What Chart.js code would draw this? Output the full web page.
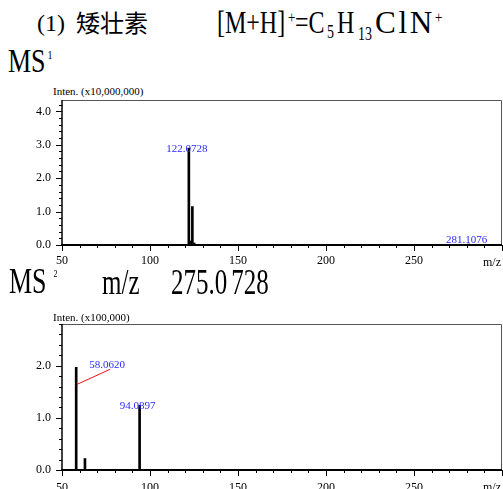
<!DOCTYPE html>
<html>
<head>
<meta charset="utf-8">
<script src="https://cdn.jsdelivr.net/npm/chart.js@4.4.0/dist/chart.umd.min.js"></script>
<style>
  html, body { margin: 0; padding: 0; background: #fff; }
  body { width: 503px; height: 489px; position: relative; overflow: hidden; font-family: "Liberation Serif", "Times New Roman", serif; color: #000; }
  .t { position: absolute; white-space: nowrap; line-height: 1; transform-origin: 0 0; }
  .tall { transform: scaleY(1.3); top: 7px; font-size: 24px; }
  .taller { transform: scaleY(1.4); }
  .sup, .sub { position: relative; }
  canvas { position: absolute; left: 0; }
</style>
</head>
<body>
  <div class="t" style="left:37px; top:11px; font-size:24px;">(1)</div>
  <div class="t" style="left:76px; top:10px; font-size:24px; font-family:'Noto Sans CJK SC';">矮壮素</div>

  <div class="t tall" style="left:217px;">[M+H]</div>
  <div class="t tall" style="left:288px;"><span class="sup" style="font-size:13px; top:-8px;">+</span></div>
  <div class="t tall" style="left:295px;">=C</div>
  <div class="t tall" style="left:327px;"><span class="sub" style="font-size:14px; top:4px;">5</span></div>
  <div class="t tall" style="left:337px;">H</div>
  <div class="t tall" style="left:358px;"><span class="sub" style="font-size:14px; top:5px;">13</span></div>
  <div class="t" style="left:375px; top:7px; font-size:24px; letter-spacing:2px; transform:scale(1.3,1.3);">ClN</div>
  <div class="t tall" style="left:435px;"><span class="sup" style="font-size:13px; top:-8px;">+</span></div>

  <div class="t" style="left:8px; top:45px; font-size:26px; transform:scaleY(1.3);">MS<span class="sup" style="font-size:10px; top:-10px; margin-left:2px;">1</span></div>
  <div class="t" style="left:53px; top:86px; font-size:11px;">Inten. (x10,000,000)</div>
  <canvas id="ms1" width="511" height="189" style="top:81px; width:511px; height:189px;"></canvas>
  <div class="t" style="left:483px; top:256px; font-size:12px;">m/z</div>

  <div class="t taller" style="left:9px; top:264px; font-size:26px;">MS<span class="sup" style="font-size:8px; top:-12px; margin-left:7px;">2</span></div>
  <div class="t taller" style="left:102px; top:265px; font-size:25px;">m/z</div>
  <div class="t taller" style="left:171px; top:265px; font-size:25px;">275.0<span style="margin-left:4px;">728</span></div>
  <div class="t" style="left:53px; top:312px; font-size:11px;">Inten. (x100,000)</div>
  <canvas id="ms2" width="513" height="184" style="top:305px; width:513px; height:184px;"></canvas>
  <div class="t" style="left:483px; top:481px; font-size:12px;">m/z</div>

<script>
// MS1 full scan, intensity in units of 10,000,000
const ms1Mz = [122.0728, 123.08, 124.07, 125.07, 281.1076];
const ms1Inten = [2.90, 0.12, 1.15, 0.06, 0.03];
const ms1Labels = ["122.0728", "281.1076"];

// MS2 of m/z 275.0728, intensity in units of 100,000
const ms2Mz = [58.0620, 63.04, 94.0897];
const ms2Inten = [1.97, 0.22, 1.24];
const ms2Labels = ["58.0620", "94.0897"];

const mzMin = 50;
const mzMax = 300;
const ms1Max = 4.34;
const ms2Max = 2.8;

// labels that sit off to the side with a red leader line (pixel offsets)
const LEADERS = { "58.0620": { dx: 31, dy: 1, from: 17 } };

const FONT = "Liberation Serif";

const spectrumDecor = {
  id: "spectrumDecor",
  afterDraw(chart, args, opts) {
    const { ctx, chartArea: a, scales: { x, y } } = chart;
    ctx.save();

    // grey frame on top and right
    ctx.strokeStyle = "#555";
    ctx.lineWidth = 1;
    ctx.beginPath();
    ctx.moveTo(a.left, a.top + 0.5);
    ctx.lineTo(a.right - 0.5, a.top + 0.5);
    ctx.lineTo(a.right - 0.5, a.bottom);
    ctx.stroke();

    // axis lines
    ctx.strokeStyle = "#000";
    ctx.lineWidth = 1.5;
    ctx.beginPath();
    ctx.moveTo(a.left, a.top);
    ctx.lineTo(a.left, a.bottom);
    ctx.stroke();
    ctx.lineWidth = 2;
    ctx.beginPath();
    ctx.moveTo(a.left - 1, a.bottom);
    ctx.lineTo(a.right, a.bottom);
    ctx.stroke();

    // tick marks, long on labelled values
    ctx.lineWidth = 1;
    ctx.beginPath();
    x.ticks.forEach(t => {
      const px = Math.round(x.getPixelForValue(t.value)) + 0.5;
      const len = Math.abs(t.value % 50) < 1e-6 ? 6 : 3;
      ctx.moveTo(px, a.bottom);
      ctx.lineTo(px, a.bottom + len);
    });
    y.ticks.forEach(t => {
      const py = Math.round(y.getPixelForValue(t.value)) + 0.5;
      const major = Math.abs(t.value - Math.round(t.value)) < 1e-6;
      ctx.moveTo(a.left, py);
      ctx.lineTo(a.left - (major ? 6 : 3), py);
    });
    ctx.stroke();

    // peak labels
    ctx.font = `11px "${FONT}"`;
    ctx.textBaseline = "alphabetic";
    ctx.textAlign = "center";
    ctx.fillStyle = "#2a2aff";
    opts.labels.forEach(lbl => {
      const i = opts.mz.findIndex(m => Math.abs(m - parseFloat(lbl)) < 1e-6);
      if (i < 0) return;
      const px = x.getPixelForValue(opts.mz[i]);
      const py = y.getPixelForValue(opts.inten[i]);
      const ld = LEADERS[lbl];
      if (ld) {
        ctx.strokeStyle = "#ff1010";
        ctx.lineWidth = 1;
        ctx.beginPath();
        ctx.moveTo(px + 1, py + ld.from);
        ctx.lineTo(px + ld.dx + 3, py + ld.dy + 1);
        ctx.stroke();
        ctx.fillText(lbl, px + ld.dx, py + ld.dy);
      } else {
        ctx.fillText(lbl, px - 2, Math.min(py + 4, a.bottom - 2));
      }
    });

    ctx.restore();
  }
};

// tick padding also feeds Chart.js' own edge padding, so the canvases are
// sized a bit larger than the page and the chart area lands where we want it
function buildSpectrum(id, mz, inten, labels, yMax, xAxisHeight, xPad) {
  const ctx = document.getElementById(id).getContext("2d");
  return new Chart(ctx, {
    type: "bar",
    data: {
      datasets: [{
        data: mz.map((m, i) => ({ x: m, y: inten[i] })),
        backgroundColor: "#000",
        borderWidth: 0,
        barThickness: 2,
        grouped: false
      }]
    },
    options: {
      responsive: false,
      animation: false,
      layout: { padding: { top: 19, right: 1, left: 0, bottom: 0 } },
      plugins: {
        legend: { display: false },
        tooltip: { enabled: false },
        spectrumDecor: { mz, inten, labels }
      },
      scales: {
        x: {
          type: "linear",
          bounds: "data",
          min: mzMin,
          max: mzMax,
          offset: false,
          grid: { display: false, drawTicks: false },
          border: { display: false },
          afterFit: s => { s.height = xAxisHeight; },
          ticks: {
            stepSize: 10,
            autoSkip: false,
            maxRotation: 0,
            includeBounds: false,
            padding: xPad,
            color: "#000",
            font: { family: FONT, size: 12 },
            callback: v => (v % 50 === 0 && v < mzMax ? String(v) : "")
          }
        },
        y: {
          bounds: "data",
          min: 0,
          max: yMax,
          grid: { display: false, drawTicks: false },
          border: { display: false },
          afterFit: s => { s.width = 62; },
          ticks: {
            stepSize: 0.2,
            autoSkip: false,
            includeBounds: false,
            padding: 11,
            color: "#000",
            font: { family: FONT, size: 12 },
            callback: v => (Math.abs(v - Math.round(v)) < 1e-6 ? v.toFixed(1) : "")
          }
        }
      }
    },
    plugins: [spectrumDecor]
  });
}

buildSpectrum("ms1", ms1Mz, ms1Inten, ms1Labels, ms1Max, 25, 9);
buildSpectrum("ms2", ms2Mz, ms2Inten, ms2Labels, ms2Max, 19, 11);
</script>
</body>
</html>
